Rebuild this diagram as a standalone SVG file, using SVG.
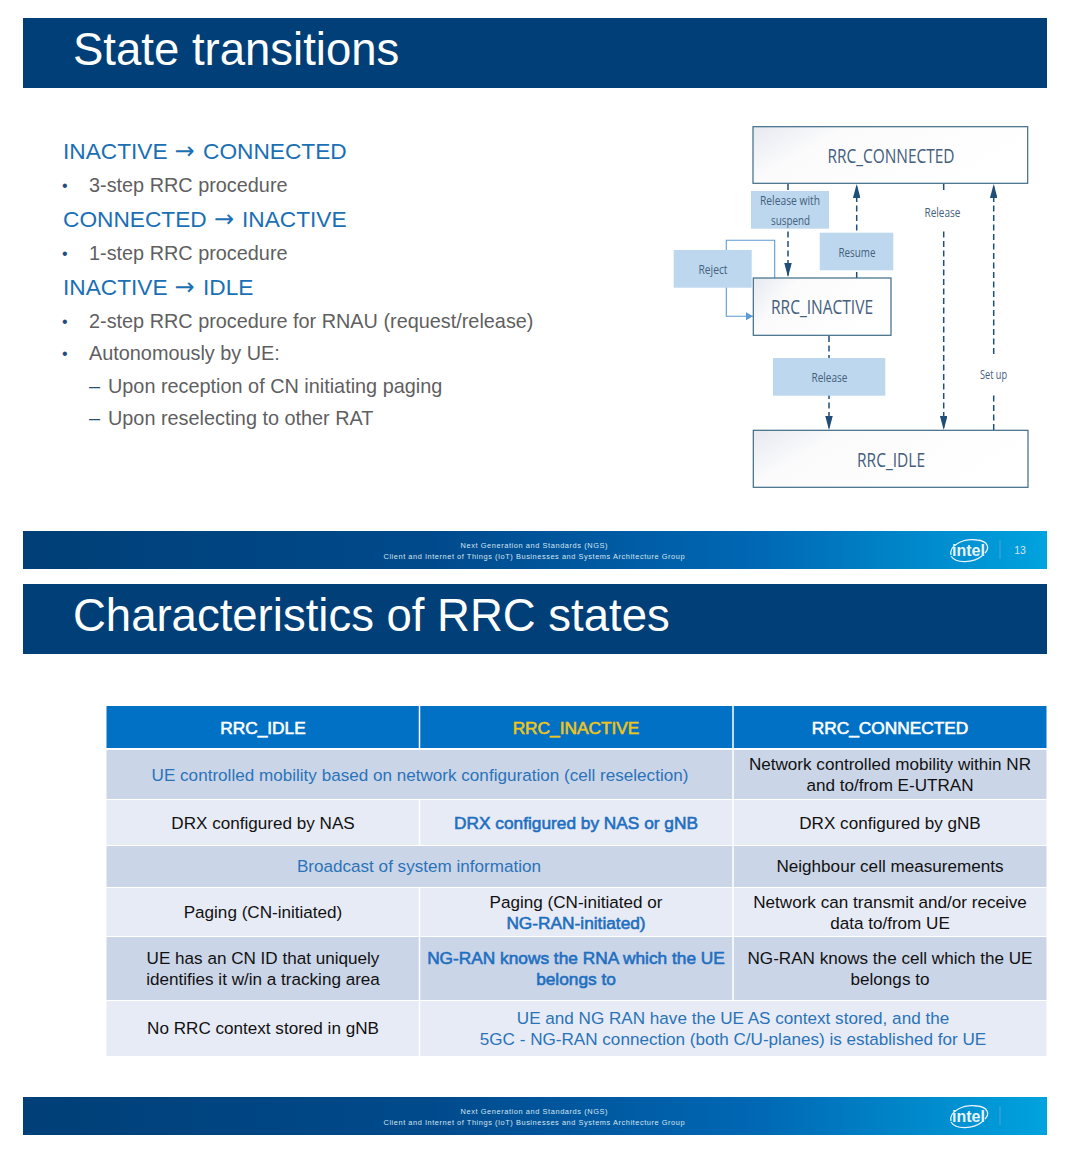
<svg xmlns="http://www.w3.org/2000/svg" width="1069" height="1153" viewBox="0 0 1069 1153">
<defs>
<linearGradient id="foot" x1="0" x2="1" y1="0" y2="0"><stop offset="0" stop-color="#003f77"/><stop offset="0.4" stop-color="#004a8c"/><stop offset="0.72" stop-color="#0068b5"/><stop offset="1" stop-color="#00a3de"/></linearGradient>
<linearGradient id="state" x1="0" x2="1" y1="0" y2="0.35"><stop offset="0" stop-color="#e6e9f0"/><stop offset="0.3" stop-color="#fbfbfc"/><stop offset="1" stop-color="#ffffff"/></linearGradient>
<marker id="dark" viewBox="0 0 10 10" refX="10" refY="5" markerWidth="14" markerHeight="7.500" markerUnits="userSpaceOnUse" orient="auto" preserveAspectRatio="none"><path d="M0 0L10 5L0 10Z" fill="#1f4e79"/></marker>
<marker id="light" viewBox="0 0 10 10" refX="10" refY="5" markerWidth="7" markerHeight="8" markerUnits="userSpaceOnUse" orient="auto" preserveAspectRatio="none"><path d="M0 0L10 5L0 10Z" fill="#5b9bd5"/></marker>
</defs>
<style>
text{font-family:"Liberation Sans",Arial,sans-serif}
.title{font-size:45.500px;fill:#fff}
.h{font-size:22.700px;fill:#1a6fb5}
.ar{font-family:"DejaVu Sans",sans-serif;font-size:24px;fill:#1a6fb5}
.b{font-size:19.850px;fill:#5f5f5f}
.bu{font-size:16px;fill:#1f4e79}
.da{font-size:19.850px;fill:#1f4e79}
.ft{font-size:7.400px;fill:#d5e4f0;text-anchor:middle}
.logo{font-size:16px;font-weight:bold;fill:#e9f4fb;text-anchor:middle}
.sw{fill:none;stroke:#e9f4fb;stroke-width:1.3}
.st{fill:url(#state);stroke:#3d6b86;stroke-width:1.2}
.sl{font-family:"Open Sans","Liberation Sans",sans-serif;font-size:20px;fill:#44607c;text-anchor:middle}
.lb{font-family:"Open Sans","Liberation Sans",sans-serif;font-size:12px;fill:#44607c;text-anchor:middle}
.box{fill:#bdd7ee}
.dash{fill:none;stroke:#1f4e79;stroke-width:1.500;stroke-dasharray:6 3.500}
.solid{fill:none;stroke:#5b9bd5;stroke-width:1.100}
.th{font-size:17.300px;text-anchor:middle;fill:#fff;stroke:#fff;stroke-width:0.600}
.c{font-size:17.100px;text-anchor:middle;fill:#111}
.l{font-size:17.100px;text-anchor:middle;fill:#2a73b8}
.m{font-size:17.300px;text-anchor:middle;fill:#1f6fc0;stroke:#1f6fc0;stroke-width:0.600}
.dk{fill:#cbd5e8}.lt{fill:#e7ebf5}.hd{fill:#0071c5}
.sep{stroke:#fff;stroke-width:1.500}
</style>

<g id="slide1-header"><rect x="23" y="18" width="1024" height="70" fill="#003f77"/><text class="title" x="73" y="64.500">State transitions</text></g>

<g id="slide1-bullets">
<text class="h" x="63" y="159">INACTIVE</text><text class="ar" x="174.500" y="159">→</text><text class="h" x="203" y="159">CONNECTED</text>
<text class="bu" x="62" y="191">•</text><text class="b" x="89" y="192">3-step RRC procedure</text>
<text class="h" x="63" y="227">CONNECTED</text><text class="ar" x="214" y="227">→</text><text class="h" x="242" y="227">INACTIVE</text>
<text class="bu" x="62" y="259">•</text><text class="b" x="89" y="260">1-step RRC procedure</text>
<text class="h" x="63" y="295">INACTIVE</text><text class="ar" x="174.500" y="295">→</text><text class="h" x="203" y="295">IDLE</text>
<text class="bu" x="62" y="327">•</text><text class="b" x="89" y="328">2-step RRC procedure for RNAU (request/release)</text>
<text class="bu" x="62" y="359">•</text><text class="b" x="89" y="360">Autonomously by UE:</text>
<text class="da" x="89" y="393">–</text><text class="b" x="108" y="393">Upon reception of CN initiating paging</text>
<text class="da" x="89" y="425">–</text><text class="b" x="108" y="425">Upon reselecting to other RAT</text>
</g>

<g id="connectors">
<path class="dash" d="M788 184V277" marker-end="url(#dark)"/>
<path class="dash" d="M856.700 278V184" marker-end="url(#dark)"/>
<path class="dash" d="M943.700 184V430" marker-end="url(#dark)"/>
<path class="dash" d="M993.700 430V184" marker-end="url(#dark)"/>
<path class="dash" d="M829 336V430" marker-end="url(#dark)"/>
<path class="solid" d="M774.700 278V240.300H726.300V316.300H753" marker-end="url(#light)"/>
</g>

<g id="rrc-connected"><rect class="st" x="753" y="126.700" width="274.700" height="56.600"/><text class="sl" x="891" y="163" textLength="127" lengthAdjust="spacingAndGlyphs">RRC_CONNECTED</text></g>
<g id="rrc-inactive"><rect class="st" x="753.300" y="278" width="137.700" height="57.300"/><text class="sl" x="822" y="314" textLength="102" lengthAdjust="spacingAndGlyphs">RRC_INACTIVE</text></g>
<g id="rrc-idle"><rect class="st" x="753.300" y="430.300" width="274.700" height="57"/><text class="sl" x="891" y="467" textLength="68" lengthAdjust="spacingAndGlyphs">RRC_IDLE</text></g>

<g id="label-release-suspend"><rect class="box" x="751" y="191" width="78" height="37.700"/><text class="lb" x="790" y="205" textLength="60" lengthAdjust="spacingAndGlyphs">Release with</text><text class="lb" x="790.500" y="224.500" textLength="39" lengthAdjust="spacingAndGlyphs">suspend</text></g>
<g id="label-resume"><rect class="box" x="819.700" y="232.700" width="73.600" height="37.600"/><text class="lb" x="857" y="256.500" textLength="37" lengthAdjust="spacingAndGlyphs">Resume</text></g>
<g id="label-reject"><rect class="box" x="673.700" y="250" width="78" height="37.700"/><text class="lb" x="713" y="273.500" textLength="29" lengthAdjust="spacingAndGlyphs">Reject</text></g>
<g id="label-release-a"><rect class="box" x="773" y="358" width="112.300" height="37.700"/><text class="lb" x="829.500" y="381.500" textLength="36" lengthAdjust="spacingAndGlyphs">Release</text></g>
<g id="label-release-b"><rect x="922" y="192" width="42" height="38" fill="#fff"/><text class="lb" x="942.500" y="216.500" textLength="36" lengthAdjust="spacingAndGlyphs">Release</text></g>
<g id="label-setup"><rect x="974" y="355" width="40" height="37" fill="#fff"/><text class="lb" x="993.500" y="378.500" textLength="27" lengthAdjust="spacingAndGlyphs">Set up</text></g>

<g id="slide1-footer">
<rect x="23" y="531" width="1024" height="38" fill="url(#foot)"/>
<text class="ft" x="534" y="548" textLength="147" lengthAdjust="spacing">Next Generation and Standards (NGS)</text>
<text class="ft" x="534" y="559" textLength="301" lengthAdjust="spacing">Client and Internet of Things (IoT) Businesses and Systems Architecture Group</text>
<text class="logo" x="968.500" y="555.500">intel</text>
<path class="sw" d="M951 555C949 545 964 538 977 540C988 541 990 548 985 553M951 556C956 564 973 563 982 556"/>
<path d="M1000 540V559" stroke="#4aa3dc" stroke-width="1"/>
<text x="1020" y="554" font-size="10.500" fill="#d5e4f0" text-anchor="middle">13</text>
</g>

<g id="slide2-header"><rect x="23" y="584" width="1024" height="70" fill="#003f77"/><text class="title" x="73" y="630.500">Characteristics of RRC states</text></g>

<g id="table">
<rect class="hd" x="106.500" y="706" width="940" height="42"/>
<rect class="dk" x="106.500" y="750" width="940" height="49"/>
<rect class="lt" x="106.500" y="800" width="940" height="45"/>
<rect class="dk" x="106.500" y="846" width="940" height="41"/>
<rect class="lt" x="106.500" y="888" width="940" height="48"/>
<rect class="dk" x="106.500" y="937" width="940" height="63"/>
<rect class="lt" x="106.500" y="1001" width="940" height="55"/>
<path class="sep" d="M419.500 706V748M733 706V748M733 750V1000M419.500 800V845M419.500 888V1056"/>
<text class="th" x="263" y="734">RRC_IDLE</text>
<text class="th" x="576" y="734" style="fill:#f0c419;stroke:#f0c419">RRC_INACTIVE</text>
<text class="th" x="890" y="734">RRC_CONNECTED</text>
<text class="l" x="420" y="781">UE controlled mobility based on network configuration (cell reselection)</text>
<text class="c" x="890" y="770">Network controlled mobility within NR</text>
<text class="c" x="890" y="791">and to/from E-UTRAN</text>
<text class="c" x="263" y="829">DRX configured by NAS</text>
<text class="m" x="576" y="829">DRX configured by NAS or gNB</text>
<text class="c" x="890" y="829">DRX configured by gNB</text>
<text class="l" x="419" y="872">Broadcast of system information</text>
<text class="c" x="890" y="872">Neighbour cell measurements</text>
<text class="c" x="263" y="918">Paging (CN-initiated)</text>
<text class="c" x="576" y="908">Paging (CN-initiated or</text>
<text class="m" x="576" y="929">NG-RAN-initiated)</text>
<text class="c" x="890" y="908">Network can transmit and/or receive</text>
<text class="c" x="890" y="929">data to/from UE</text>
<text class="c" x="263" y="964">UE has an CN ID that uniquely</text>
<text class="c" x="263" y="985">identifies it w/in a tracking area</text>
<text class="m" x="576" y="964">NG-RAN knows the RNA which the UE</text>
<text class="m" x="576" y="985">belongs to</text>
<text class="c" x="890" y="964">NG-RAN knows the cell which the UE</text>
<text class="c" x="890" y="985">belongs to</text>
<text class="c" x="263" y="1034">No RRC context stored in gNB</text>
<text class="l" x="733" y="1024">UE and NG RAN have the UE AS context stored, and the</text>
<text class="l" x="733" y="1045">5GC - NG-RAN connection (both C/U-planes) is established for UE</text>
</g>

<g id="slide2-footer">
<rect x="23" y="1097" width="1024" height="38" fill="url(#foot)"/>
<text class="ft" x="534" y="1114" textLength="147" lengthAdjust="spacing">Next Generation and Standards (NGS)</text>
<text class="ft" x="534" y="1125" textLength="301" lengthAdjust="spacing">Client and Internet of Things (IoT) Businesses and Systems Architecture Group</text>
<text class="logo" x="968.500" y="1121.500">intel</text>
<path class="sw" d="M951 1121C949 1111 964 1104 977 1106C988 1107 990 1114 985 1119M951 1122C956 1130 973 1129 982 1122"/>
<path d="M1000 1106V1125" stroke="#4aa3dc" stroke-width="1"/>
</g>
</svg>
